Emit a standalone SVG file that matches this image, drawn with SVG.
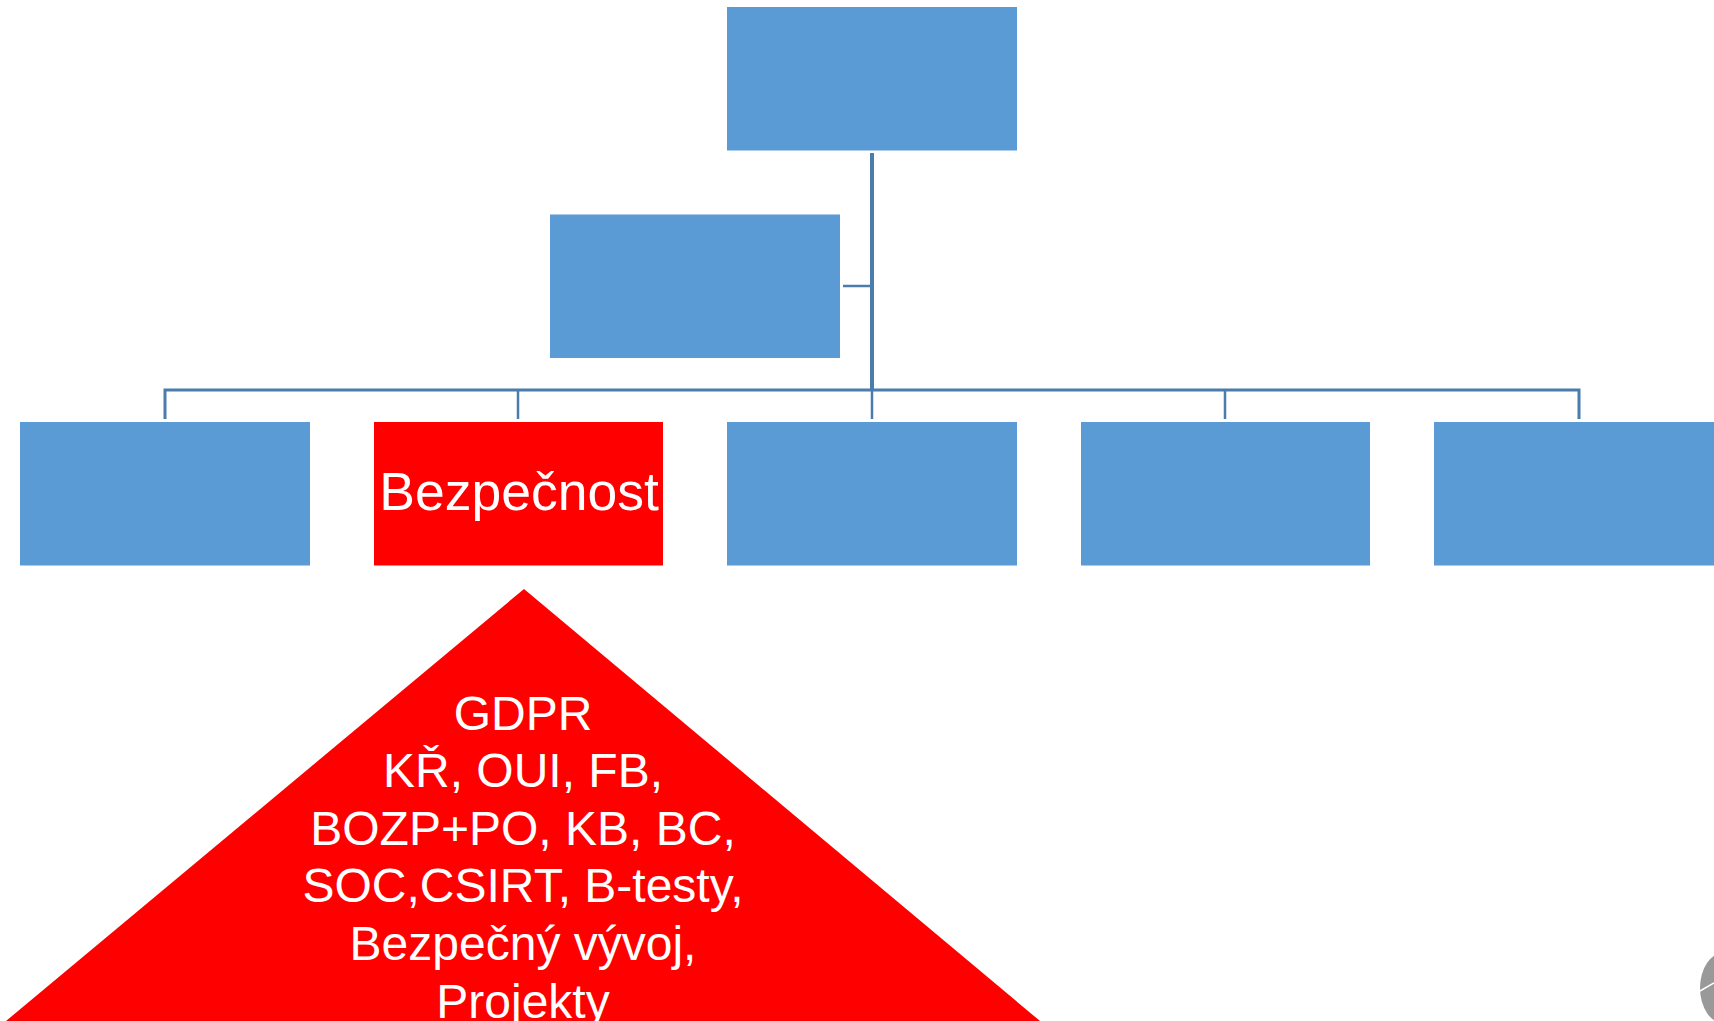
<svg xmlns="http://www.w3.org/2000/svg" width="1714" height="1021" viewBox="0 0 1714 1021">
<style>
.box{fill:#5b9bd5}
.red{fill:#ff0000}
.t{font-family:"Liberation Sans",Arial,sans-serif;fill:#fff;text-anchor:middle}
.p{font-size:48px}
.c{fill:none;stroke:#4a7dac;stroke-width:2.5}
</style>
<rect width="1714" height="1021" fill="#fff"/>
<g id="connectors">
<path class="c" style="stroke-width:4" d="M872 153V390"/>
<path class="c" d="M843 286H872"/>
<path class="c" style="stroke-width:3" d="M165 419V390H1579V419"/>
<path class="c" d="M518 390V419M872 390V419M1225 390V419"/>
</g>
<g id="node-top"><rect class="box" x="727" y="7" width="290" height="143.5"/></g>
<g id="node-assistant"><rect class="box" x="550" y="214.5" width="290" height="143.5"/></g>
<g id="node-1"><rect class="box" x="20" y="422" width="290" height="143.5"/></g>
<g id="node-2"><rect class="red" x="374" y="422" width="289" height="143.5"/><text class="t" x="519" y="510" font-size="53.5">Bezpečnost</text></g>
<g id="node-3"><rect class="box" x="727" y="422" width="290" height="143.5"/></g>
<g id="node-4"><rect class="box" x="1081" y="422" width="289" height="143.5"/></g>
<g id="node-5"><rect class="box" x="1434" y="422" width="290" height="143.5"/></g>
<g id="pyramid"><polygon class="red" points="524,589 1040,1021 6,1021"/>
<text class="t p" x="523" y="730">GDPR</text>
<text class="t p" x="523" y="787">KŘ, OUI, FB,</text>
<text class="t p" x="523" y="845">BOZP+PO, KB, BC,</text>
<text class="t p" x="523" y="902">SOC,CSIRT, B-testy,</text>
<text class="t p" x="523" y="960">Bezpečný vývoj,</text>
<text class="t p" x="523" y="1018">Projekty</text>
</g>
<g id="logo-fragment"><ellipse cx="1725" cy="988" rx="25" ry="36" fill="#999"/><path d="M1700 991L1714 983" stroke="#fff" stroke-width="1.5" fill="none"/></g>
</svg>
